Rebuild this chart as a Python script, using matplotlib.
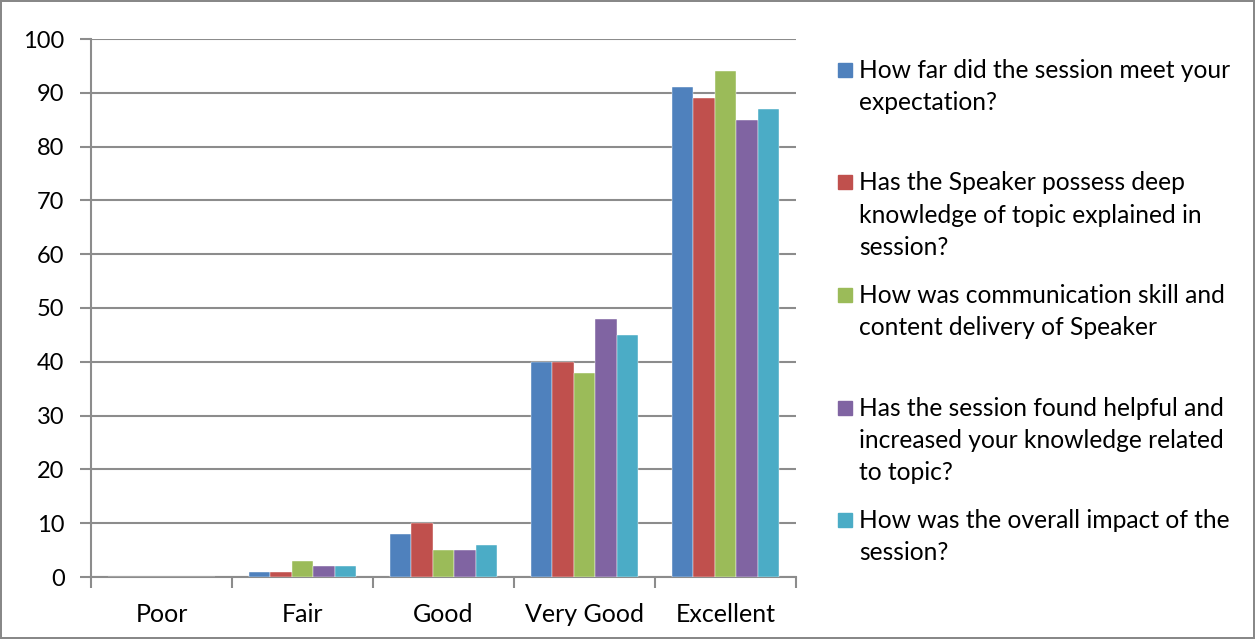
import numpy as np
import matplotlib.pyplot as plt
from matplotlib.patches import Rectangle

categories = ['Poor', 'Fair', 'Good', 'Very Good', 'Excellent']
labels = ['How far did the session meet your\nexpectation?',
          'Has the Speaker possess deep\nknowledge of topic explained in\nsession?',
          'How was communication skill and\ncontent delivery of Speaker',
          'Has the session found helpful and\nincreased your knowledge related\nto topic?',
          'How was the overall impact of the\nsession?']
expectation = [0, 1, 8, 40, 91]
knowledge = [0, 1, 10, 40, 89]
communication = [0, 3, 5, 38, 94]
helpful = [0, 2, 5, 48, 85]
impact = [0, 2, 6, 45, 87]
series = [expectation, knowledge, communication, helpful, impact]
colors = ['#4F81BD', '#C0504D', '#9BBB59', '#8064A2', '#4BACC6']

plt.rcParams['font.family'] = ['Lato', 'DejaVu Sans']

fig = plt.figure(figsize=(12.55, 6.39), dpi=100)
fig.patch.set_edgecolor('#888888')
fig.patch.set_linewidth(1.5)
ax = fig.add_axes([91 / 1255, 1 - 577 / 639, (796 - 91) / 1255, (577 - 39) / 639])

x = np.arange(len(categories))
w = 0.153
for i, vals in enumerate(series):
    ax.bar(x + (i - 2) * w, vals, width=w, color=colors[i], zorder=3,
           edgecolor='white', linewidth=0.3)

ax.set_xlim(-0.5, len(categories) - 0.5)
ax.set_ylim(0, 100)
ax.set_yticks(np.arange(0, 101, 10))
ax.yaxis.grid(True, color='#8c8c8c', linewidth=1.5, zorder=0)
ax.set_xticks(x)
ax.set_xticklabels(categories)
ax.set_xticks(np.arange(-0.5, len(categories), 1), minor=True)
ax.tick_params(axis='x', which='major', length=0, pad=19, labelsize=18)
ax.tick_params(axis='x', which='minor', length=8, width=1.5, color='#8c8c8c', direction='out')
ax.tick_params(axis='y', length=8, width=1.5, color='#8c8c8c', labelsize=17, pad=11)
for s in ['top', 'right']:
    ax.spines[s].set_visible(False)
for s in ['left', 'bottom']:
    ax.spines[s].set_color('#8c8c8c')
    ax.spines[s].set_linewidth(1.5)

# legend drawn by hand, Excel-style evenly spaced entries
for i, label in enumerate(labels):
    yc = 70 + i * 112.5
    fig.patches.append(Rectangle((838 / 1255, 1 - (yc + 7) / 639), 14 / 1255, 14 / 639,
                                 transform=fig.transFigure, color=colors[i]))
    fig.text(859 / 1255, 1 - (yc - 11) / 639, label, fontsize=17.7, va='top', ha='left',
             linespacing=1.48)

fig.savefig('out.png', dpi=100)
